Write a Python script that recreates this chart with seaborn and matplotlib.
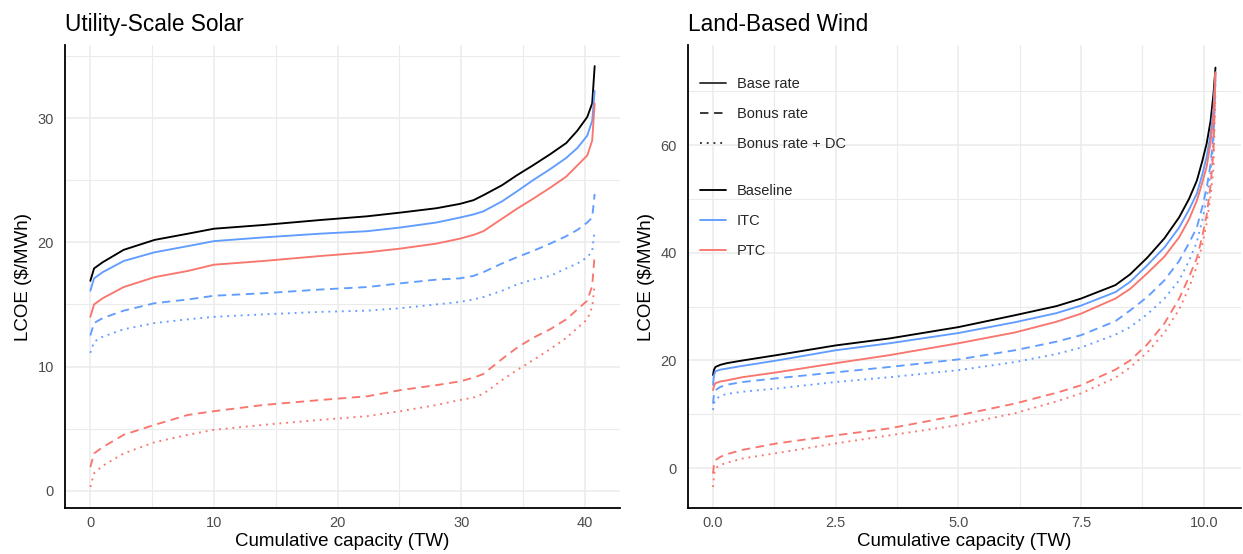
import numpy as np
import pandas as pd
import matplotlib
matplotlib.use("Agg")
import matplotlib.pyplot as plt
from matplotlib.lines import Line2D
from matplotlib.ticker import MultipleLocator, FormatStrFormatter
import seaborn as sns

# ---- Utility-scale solar supply curves (cumulative TW vs LCOE $/MWh) ----
solar_tw = [0, 0.3, 1, 2.7, 5.2, 7.9, 10, 14, 18.6, 22.4, 25.1, 28, 29.9,
            31.0, 31.8, 33.3, 34.5, 35.8, 37.2, 38.5, 39.4, 40.2, 40.6, 40.8]
solar_baseline = [16.9, 17.9, 18.4, 19.4, 20.2, 20.7, 21.1, 21.4, 21.8, 22.1, 22.4, 22.75,
                  23.1, 23.4, 23.8, 24.6, 25.4, 26.2, 27.1, 28.0, 29.0, 30.1, 31.2, 34.2]
solar_itc_base = [16.1, 17.1, 17.6, 18.5, 19.2, 19.7, 20.1, 20.4, 20.7, 20.9, 21.2, 21.6,
                  22.0, 22.25, 22.5, 23.3, 24.1, 25.0, 25.9, 26.8, 27.6, 28.6, 29.8, 32.2]
solar_ptc_base = [14.0, 15.0, 15.5, 16.4, 17.2, 17.7, 18.2, 18.5, 18.9, 19.2, 19.5, 19.9,
                  20.3, 20.6, 20.9, 21.9, 22.7, 23.5, 24.4, 25.3, 26.2, 27.0, 28.2, 31.2]
solar_itc_bonus = [12.5, 13.5, 13.9, 14.5, 15.1, 15.4, 15.7, 15.9, 16.2, 16.4, 16.7, 17.0,
                   17.1, 17.3, 17.6, 18.3, 18.8, 19.3, 19.9, 20.5, 21.0, 21.6, 22.0, 23.9]
solar_itc_bonus_dc = [11.1, 12.0, 12.4, 13.0, 13.5, 13.8, 14.0, 14.2, 14.4, 14.5, 14.7, 15.0,
                      15.2, 15.4, 15.6, 16.1, 16.6, 17.0, 17.3, 17.9, 18.3, 18.8, 19.3, 21.0]
solar_ptc_bonus = [1.9, 3.0, 3.5, 4.5, 5.3, 6.1, 6.4, 6.9, 7.3, 7.6, 8.1, 8.5,
                   8.8, 9.1, 9.4, 10.6, 11.5, 12.3, 13.0, 13.8, 14.6, 15.3, 16.5, 19.0]
solar_ptc_bonus_dc = [0.3, 1.4, 2.0, 3.0, 3.9, 4.5, 4.9, 5.3, 5.7, 6.0, 6.4, 6.9,
                      7.3, 7.5, 7.8, 8.9, 9.7, 10.5, 11.4, 12.3, 13.1, 13.8, 14.8, 16.6]

# ---- Land-based wind supply curves ----
wind_tw = [0, 0.02, 0.05, 0.15, 0.28, 0.6, 1.3, 2.5, 3.6, 5.0, 6.15, 7.0, 7.5,
           8.2, 8.5, 8.85, 9.2, 9.5, 9.7, 9.86, 9.97, 10.06, 10.14, 10.2, 10.24]
wind_baseline = [17.3, 18.3, 18.8, 19.2, 19.5, 20.0, 21.0, 22.8, 24.1, 26.2, 28.4, 30.1, 31.5,
                 34.0, 36.0, 39.1, 42.7, 46.6, 50.0, 53.4, 57.0, 60.3, 64.5, 69.6, 74.4]
wind_itc_base = [15.5, 17.3, 18.0, 18.3, 18.5, 19.0, 20.0, 21.9, 23.2, 25.1, 27.1, 28.8, 30.2,
                 32.7, 34.6, 37.7, 41.0, 44.7, 48.0, 51.0, 54.5, 57.8, 62.0, 67.0, 73.5]
wind_ptc_base = [14.5, 15.3, 15.8, 16.1, 16.3, 16.9, 17.8, 19.5, 21.0, 23.2, 25.2, 27.2, 28.7,
                 31.5, 33.3, 36.2, 39.3, 42.9, 46.2, 49.7, 53.0, 56.0, 60.5, 65.5, 73.5]
wind_itc_bonus = [12.0, 13.8, 14.5, 15.1, 15.5, 16.0, 16.7, 17.8, 18.8, 20.2, 21.9, 23.5, 24.7,
                  27.3, 29.3, 31.8, 34.9, 38.5, 41.8, 44.7, 48.5, 52.0, 56.5, 62.0, 72.5]
wind_itc_bonus_dc = [10.8, 12.0, 12.8, 13.4, 13.8, 14.2, 14.8, 16.0, 16.9, 18.2, 19.7, 21.2, 22.4,
                     24.8, 26.2, 28.6, 31.5, 34.9, 38.5, 42.0, 46.0, 50.0, 55.0, 60.9, 72.0]
wind_ptc_bonus = [-1.0, 0.8, 1.5, 2.1, 2.6, 3.4, 4.6, 6.1, 7.4, 9.8, 12.0, 14.0, 15.4,
                  18.3, 20.0, 23.0, 26.9, 31.5, 35.5, 39.0, 43.0, 47.0, 52.5, 59.0, 74.0]
wind_ptc_bonus_dc = [-3.5, -1.2, 0.0, 0.6, 1.0, 1.8, 2.8, 4.6, 6.1, 8.0, 10.2, 12.4, 13.9,
                     16.8, 18.7, 21.5, 25.2, 29.5, 33.5, 37.5, 41.5, 45.5, 50.5, 56.0, 70.0]

programs = ["Baseline", "ITC", "PTC"]
rates = ["Base rate", "Bonus rate", "Bonus rate + DC"]
colors = {"Baseline": "black", "ITC": "#619CFF", "PTC": "#F8766D"}
dash_styles = {"Base rate": "", "Bonus rate": (4.5, 3), "Bonus rate + DC": (1, 2.6)}


def long_frame(tw, series):
    rows = []
    for (prog, rate), vals in series:
        rows.append(pd.DataFrame({"TW": tw, "LCOE": vals, "program": prog, "rate": rate}))
    return pd.concat(rows, ignore_index=True)


solar = long_frame(solar_tw, [
    (("PTC", "Bonus rate + DC"), solar_ptc_bonus_dc),
    (("PTC", "Bonus rate"), solar_ptc_bonus),
    (("ITC", "Bonus rate + DC"), solar_itc_bonus_dc),
    (("ITC", "Bonus rate"), solar_itc_bonus),
    (("PTC", "Base rate"), solar_ptc_base),
    (("ITC", "Base rate"), solar_itc_base),
    (("Baseline", "Base rate"), solar_baseline),
])
wind = long_frame(wind_tw, [
    (("PTC", "Bonus rate + DC"), wind_ptc_bonus_dc),
    (("PTC", "Bonus rate"), wind_ptc_bonus),
    (("ITC", "Bonus rate + DC"), wind_itc_bonus_dc),
    (("ITC", "Bonus rate"), wind_itc_bonus),
    (("PTC", "Base rate"), wind_ptc_base),
    (("ITC", "Base rate"), wind_itc_base),
    (("Baseline", "Base rate"), wind_baseline),
])

sns.set_theme(style="white")
plt.rcParams["font.family"] = ["Liberation Sans", "DejaVu Sans"]

fig = plt.figure(figsize=(12.43, 5.54), dpi=100)
ax1 = fig.add_axes([0.0523, 0.083, 0.4465, 0.8358])
ax2 = fig.add_axes([0.5535, 0.083, 0.4445, 0.8358])

grid_col = "#ebebeb"
for ax, df, title, xmaj, ymaj, xlim, ylim in [
    (ax1, solar, "Utility-Scale Solar", 10, 10, (-2.05, 42.85), (-1.4, 35.9)),
    (ax2, wind, "Land-Based Wind", 2.5, 20, (-0.51, 10.75), (-7.4, 78.6)),
]:
    sns.lineplot(data=df, x="TW", y="LCOE", hue="program", style="rate",
                 palette=colors, dashes=dash_styles, hue_order=programs,
                 style_order=rates, estimator=None, sort=False, legend=False,
                 linewidth=1.35, ax=ax)
    ax.set_xlim(*xlim)
    ax.set_ylim(*ylim)
    ax.xaxis.set_major_locator(MultipleLocator(xmaj))
    ax.xaxis.set_minor_locator(MultipleLocator(xmaj / 2))
    ax.yaxis.set_major_locator(MultipleLocator(ymaj))
    ax.yaxis.set_minor_locator(MultipleLocator(ymaj / 2))
    ax.grid(True, which="major", color=grid_col, linewidth=1.1)
    ax.grid(True, which="minor", color=grid_col, linewidth=0.8)
    ax.set_axisbelow(True)
    for side in ("top", "right"):
        ax.spines[side].set_visible(False)
    for side in ("left", "bottom"):
        ax.spines[side].set_color("black")
        ax.spines[side].set_linewidth(1.3)
    ax.tick_params(axis="both", which="both", length=0, labelsize=10.5,
                   labelcolor="#4d4d4d")
    ax.tick_params(axis="x", pad=6)
    ax.tick_params(axis="y", pad=8)
    ax.set_xlabel("Cumulative capacity (TW)", fontsize=13.5, color="black", labelpad=2)
    ax.set_ylabel("LCOE ($/MWh)", fontsize=13.5, color="black", labelpad=4)
    ax.set_title(title, loc="left", fontsize=16.3, color="black", pad=10, x=0.0)

ax2.xaxis.set_major_formatter(FormatStrFormatter("%.1f"))

# Legend: line type first, then colour
rate_handles = [Line2D([], [], color="#333333", linewidth=1.35, linestyle="-"),
                Line2D([], [], color="#333333", linewidth=1.35, dashes=(4.5, 3)),
                Line2D([], [], color="#333333", linewidth=1.35, dashes=(1, 2.6))]
prog_handles = [Line2D([], [], color=colors[p], linewidth=1.35) for p in programs]

leg_kw = dict(frameon=False, fontsize=10.5, handlelength=1.75, handletextpad=0.75,
              labelspacing=1.1, borderpad=0, borderaxespad=0, loc="upper left")
leg1 = ax2.legend(rate_handles, rates, bbox_to_anchor=(0.022, 0.931), **leg_kw)
ax2.add_artist(leg1)
ax2.legend(prog_handles, programs, bbox_to_anchor=(0.022, 0.7), **leg_kw)

fig.savefig("out.png", dpi=100, facecolor="white")
